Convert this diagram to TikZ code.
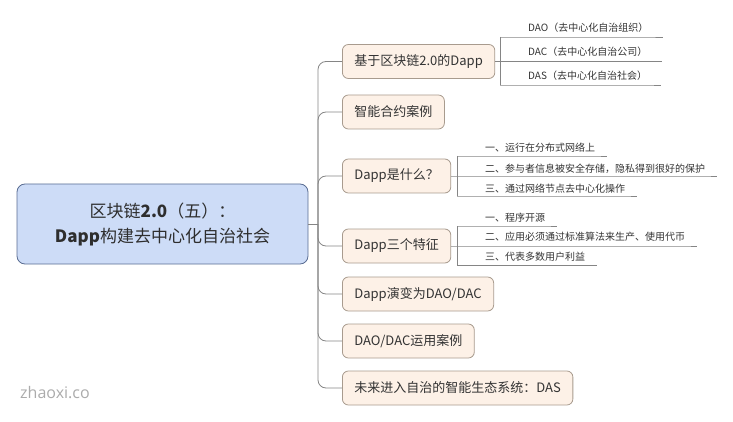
\documentclass[tikz,border=0pt]{standalone}
\usepackage{fontspec}
\setmainfont{Noto Sans CJK SC}
\newfontfamily\wmfont{Open Sans}
\definecolor{rootfill}{HTML}{CDDCF7}
\definecolor{rootdraw}{HTML}{5A6D93}
\definecolor{boxfill}{HTML}{FDF1E7}
\definecolor{boxdraw}{HTML}{A89B8E}
\definecolor{linec}{HTML}{858585}
\definecolor{txt}{HTML}{333333}
\begin{document}
\begin{tikzpicture}[x=1pt,y=-1pt,
 rootbox/.style={draw=rootdraw, fill=rootfill, rounded corners=8pt, line width=0.8pt, minimum width=291pt, minimum height=80pt, align=center, text=txt!90!black, font=\fontsize{17}{25}\selectfont, inner sep=0pt},
 topic/.style={draw=boxdraw, fill=boxfill, rounded corners=6pt, line width=0.8pt, minimum height=34pt, inner xsep=12pt, anchor=west, text=txt, font=\fontsize{13}{15}\selectfont},
 conn/.style={draw=linec, line width=0.8pt},
 trunkline/.style={conn, rounded corners=8pt},
 leaf/.style={anchor=west, inner sep=0pt, text=txt, font=\fontsize{10}{12}\selectfont},
]
\useasboundingbox (0,0) rectangle (733,422);

% root
\node[rootbox] (root) at (162.5,224) {区块链\textbf{2.0}（五）：\\\textbf{Dapp}构建去中心化自治社会};
\coordinate (tr) at (318,224);
\draw[conn] (root.east) -- (tr);

% topics
\node[topic] (b1) at (342,61.5) {基于区块链2.0的Dapp};
\node[topic] (b2) at (342,112) {智能合约案例};
\node[topic] (b3) at (342,176) {Dapp是什么？};
\node[topic] (b4) at (342,246) {Dapp三个特征};
\node[topic] (b5) at (342,294) {Dapp演变为DAO/DAC};
\node[topic] (b6) at (342,341) {DAO/DAC运用案例};
\node[topic] (b7) at (342,388) {未来进入自治的智能生态系统：DAS};

\foreach \b in {b1,b2,b3,b4,b5,b6,b7}
  \draw[trunkline] (tr) |- (\b.west);

% branch 1 leaves
\coordinate (v1t) at (500,37);
\coordinate (v1b) at (500,85);
\node[leaf] (l11) at (528,27.5) {DAO（去中心化自治组织）};
\node[leaf] (l12) at (528,51.5) {DAC（去中心化自治公司）};
\node[leaf] (l13) at (528,75.5) {DAS（去中心化自治社会）};
\draw[conn] (v1t) -- (v1b);
\draw[conn] (v1t) -- (l11.east |- v1t) -- ++(14,0);
\draw[conn] (b1.east) -- (l12.east |- b1.east) -- ++(14,0);
\draw[conn] (v1b) -- (l13.east |- v1b) -- ++(14,0);

% branch 3 leaves
\coordinate (v3t) at (457,156);
\coordinate (v3b) at (457,196);
\node[leaf] (l31) at (485,148) {一、运行在分布式网络上};
\node[leaf] (l32) at (485,168.5) {二、参与者信息被安全存储，隐私得到很好的保护};
\node[leaf] (l33) at (485,189) {三、通过网络节点去中心化操作};
\draw[conn] (v3t) -- (v3b);
\draw[conn] (v3t) -- (l31.east |- v3t) -- ++(12,0);
\draw[conn] (b3.east) -- (l32.east |- b3.east) -- ++(12,0);
\draw[conn] (v3b) -- (l33.east |- v3b) -- ++(12,0);

% branch 4 leaves
\coordinate (v4t) at (457,226);
\coordinate (v4b) at (457,265.5);
\node[leaf] (l41) at (485,217.5) {一、程序开源};
\node[leaf] (l42) at (485,237) {二、应用必须通过标准算法来生产、使用代币};
\node[leaf] (l43) at (485,257) {三、代表多数用户利益};
\draw[conn] (v4t) -- (v4b);
\draw[conn] (v4t) -- (l41.east |- v4t) -- ++(12,0);
\draw[conn] (b4.east) -- (l42.east |- b4.east) -- ++(12,0);
\draw[conn] (v4b) -- (l43.east |- v4b) -- ++(12,0);

% watermark
\node[anchor=west, inner sep=0pt, text=black!33, font=\wmfont\fontsize{16}{18}\selectfont] (wm) at (20,393) {zhaoxi.co};
\end{tikzpicture}
\end{document}
